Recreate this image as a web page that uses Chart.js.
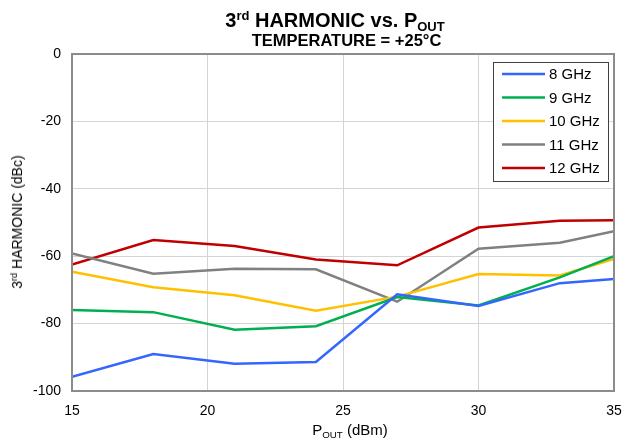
<!DOCTYPE html>
<html lang="en">
<head>
    <meta charset="UTF-8">
    <title>3rd Harmonic vs. Pout</title>
    <script src="https://cdn.jsdelivr.net/npm/chart.js"></script>
    <style>
        body { margin: 0; background: #fff; font-family: Arial, "Liberation Sans", sans-serif; }
        #wrap { position: relative; width: 626px; height: 444px; }
        .lbl { position: absolute; color: #000; white-space: nowrap; }
        #title { left: 0; width: 670px; top: 9px; text-align: center; font-weight: bold; font-size: 20px; }
        #subtitle { left: 0; width: 693px; top: 31px; text-align: center; font-weight: bold; font-size: 16.5px; }
        #xtitle { left: 0; width: 700px; top: 421px; text-align: center; font-size: 15px; }
        #ytitle { left: 17px; top: 222px; font-size: 14px; transform: translate(-50%, -50%) rotate(-90deg); }
        sup { font-size: 0.65em; vertical-align: 0.55em; line-height: 0; }
        sub { font-size: 0.65em; vertical-align: -0.3em; line-height: 0; }
    </style>
</head>
<body>
<div id="wrap">
    <canvas id="harmChart" width="626" height="444"></canvas>
    <div class="lbl" id="title">3<sup>rd</sup> HARMONIC vs. P<sub>OUT</sub></div>
    <div class="lbl" id="subtitle">TEMPERATURE = +25°C</div>
    <div class="lbl" id="xtitle">P<sub>OUT</sub> (dBm)</div>
    <div class="lbl" id="ytitle">3<sup>rd</sup> HARMONIC (dBc)</div>
</div>
<script>
    // output power points (dBm)
    var pout = [15, 18, 21, 24, 27, 30, 33, 35];

    // 3rd harmonic (dBc) per frequency
    var h8GHz  = [-95.8, -89.0, -91.9, -91.4, -71.3, -74.8, -68.0, -66.8];
    var h9GHz  = [-76.0, -76.6, -81.8, -80.8, -72.1, -74.6, -66.3, -60.0];
    var h10GHz = [-64.6, -69.2, -71.6, -76.2, -72.0, -65.3, -65.7, -60.8];
    var h11GHz = [-59.2, -65.2, -63.7, -63.9, -73.5, -57.8, -56.0, -52.6];
    var h12GHz = [-62.5, -55.2, -57.0, -61.0, -62.7, -51.5, -49.5, -49.3];

    var seriesNames = ['8 GHz', '9 GHz', '10 GHz', '11 GHz', '12 GHz'];
    var seriesColors = ['#3366ff', '#00b050', '#ffc000', '#808080', '#c00000'];
    var seriesValues = [h8GHz, h9GHz, h10GHz, h11GHz, h12GHz];

    var xTicks = [15, 20, 25, 30, 35];
    var yTicks = [0, -20, -40, -60, -80, -100];

    var datasets = seriesValues.map(function (vals, i) {
        return {
            label: seriesNames[i],
            data: vals.map(function (v, j) { return { x: pout[j], y: v }; }),
            borderColor: seriesColors[i],
            backgroundColor: seriesColors[i],
            borderWidth: 2.5,
            pointRadius: 0,
            tension: 0
        };
    });

    // frame around plot + boxed legend in upper right
    var frameAndLegend = {
        id: 'frameAndLegend',
        afterDatasetsDraw: function (chart) {
            var ctx = chart.ctx, a = chart.chartArea;
            ctx.save();
            ctx.strokeStyle = '#8c8c8c';
            ctx.lineWidth = 2;
            ctx.strokeRect(a.left, a.top, a.right - a.left, a.bottom - a.top);

            var bx = 493, by = 62, bw = 115, bh = 119;
            ctx.fillStyle = '#fff';
            ctx.fillRect(bx, by, bw, bh);
            ctx.strokeStyle = '#404040';
            ctx.lineWidth = 1;
            ctx.strokeRect(bx + 0.5, by + 0.5, bw, bh);
            ctx.font = '15px Arial, "Liberation Sans", sans-serif';
            ctx.textBaseline = 'middle';
            chart.data.datasets.forEach(function (ds, i) {
                var y = by + 12 + i * 23.5;
                ctx.strokeStyle = ds.borderColor;
                ctx.lineWidth = 2.5;
                ctx.beginPath();
                ctx.moveTo(bx + 9, y);
                ctx.lineTo(bx + 52, y);
                ctx.stroke();
                ctx.fillStyle = '#000';
                ctx.fillText(ds.label, bx + 56, y + 1);
            });
            ctx.restore();
        }
    };

    var ctx = document.getElementById('harmChart').getContext('2d');
    var harmChart = new Chart(ctx, {
        type: 'line',
        data: { datasets: datasets },
        options: {
            responsive: false,
            animation: false,
            layout: { padding: { left: 0, top: 54, right: 12, bottom: 0 } },
            plugins: {
                legend: { display: false },
                title: { display: false },
                tooltip: { enabled: false }
            },
            scales: {
                x: {
                    type: 'linear',
                    min: 15,
                    max: 35,
                    afterBuildTicks: function (s) { s.ticks = xTicks.map(function (v) { return { value: v }; }); },
                    afterFit: function (s) { s.height = 53; s.paddingRight = 0; s.paddingLeft = 0; },
                    grid: { color: '#d4d4d4', lineWidth: 1, drawTicks: false },
                    border: { color: '#8c8c8c', width: 2 },
                    ticks: { color: '#000', padding: 12, font: { family: 'Arial', size: 14 } }
                },
                y: {
                    type: 'linear',
                    min: -100,
                    max: 0,
                    afterBuildTicks: function (s) { s.ticks = yTicks.map(function (v) { return { value: v }; }); },
                    afterFit: function (s) { s.width = 72; s.paddingTop = 0; s.paddingBottom = 0; },
                    grid: { color: '#d4d4d4', lineWidth: 1, drawTicks: false },
                    border: { color: '#8c8c8c', width: 2 },
                    ticks: { color: '#000', padding: 11, font: { family: 'Arial', size: 14 } }
                }
            }
        },
        plugins: [frameAndLegend]
    });
</script>
</body>
</html>
